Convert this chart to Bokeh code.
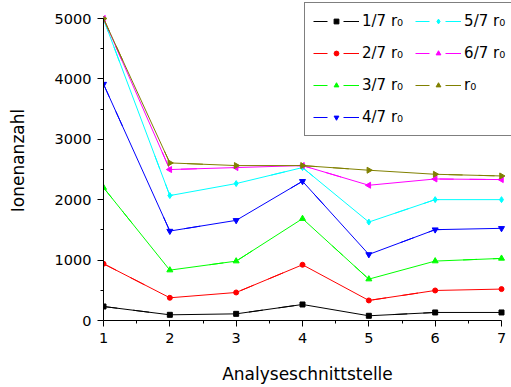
import math

from bokeh.embed import file_html
from bokeh.models import FixedTicker, Legend, LegendItem, Range1d
from bokeh.plotting import figure
from bokeh.resources import INLINE

# Analysis interface positions (x) and ion counts per radius fraction
positions = [1, 2, 3, 4, 5, 6, 7]
r_1_7 = [232, 94, 110, 265, 78, 133, 133]
r_2_7 = [940, 376, 464, 923, 332, 497, 520]
r_3_7 = [2200, 834, 983, 1686, 685, 984, 1028]
r_4_7 = [3914, 1481, 1658, 2305, 1094, 1504, 1526]
r_5_7 = [4990, 2068, 2267, 2532, 1630, 2001, 2001]
r_6_7 = [5000, 2499, 2532, 2565, 2239, 2343, 2333]
r_7_7 = [5000, 2609, 2565, 2565, 2488, 2421, 2393]

labels = ["1/7 r₀", "2/7 r₀", "3/7 r₀", "4/7 r₀", "5/7 r₀", "6/7 r₀", "r₀"]
series = [r_1_7, r_2_7, r_3_7, r_4_7, r_5_7, r_6_7, r_7_7]
colors = ["#000000", "#FF0000", "#00FF00", "#0000FF", "#00FFFF", "#FF00FF", "#808000"]
markers = ["square", "circle", "triangle", "inverted_triangle", "diamond", "triangle", "triangle"]
angles = [0, 0, 0, 0, 0, math.pi / 2, -math.pi / 2]
sizes = [5, 5, 6, 6, 6, 6, 6]

y_ticks = [0, 1000, 2000, 3000, 4000, 5000]
x_ticks = [1, 2, 3, 4, 5, 6, 7]

FONT = "DejaVu Sans"

# The plotting frame runs to the top and right canvas edges so the legend
# box is not clipped; the axes themselves stop at 7 and 5000 via bounds.
X_END = 1 + 6 * 408 / 398
Y_END = 5000 * 320 / 302

p = figure(
    width=511,
    height=387,
    output_backend="svg",
    toolbar_location=None,
    x_range=Range1d(1, X_END),
    y_range=Range1d(0, Y_END),
    min_border_left=103,
    min_border_right=0,
    min_border_top=0,
    min_border_bottom=67,
)
p.outline_line_color = None
p.grid.visible = False
p.background_fill_color = "white"
p.border_fill_color = "white"

items = []
for lab, ys, col, mk, ang, sz in zip(labels, series, colors, markers, angles, sizes):
    # dashed copy lies under the solid line; it only supplies the
    # "line - gap - line" legend swatch
    sw = p.line(positions, ys, line_color=col, line_width=1, line_dash="14 16 16 100")
    p.line(positions, ys, line_color=col, line_width=1)
    sc = p.scatter(positions, ys, marker=mk, angle=ang, size=sz,
                   fill_color=col, line_color=col)
    items.append(LegendItem(label=lab, renderers=[sw, sc]))

legend = Legend(
    items=items,
    orientation="vertical",
    nrows=4,
    location=(201, 184),
    glyph_width=46,
    glyph_height=12,
    label_height=20,
    label_standoff=3,
    spacing=12,
    padding=8,
    margin=0,
    border_line_color="black",
    border_line_width=1,
    background_fill_color="white",
    background_fill_alpha=1,
    label_text_font=FONT,
    label_text_font_size="15px",
    label_text_color="black",
)
p.add_layout(legend, "center")

for ax in (p.xaxis[0], p.yaxis[0]):
    ax.axis_line_color = "black"
    ax.axis_line_width = 1
    ax.major_tick_line_color = "black"
    ax.minor_tick_line_color = "black"
    ax.major_tick_in = 0
    ax.major_tick_out = 6
    ax.minor_tick_in = 0
    ax.minor_tick_out = 3
    ax.major_label_text_font = FONT
    ax.major_label_text_font_size = "14.5px"
    ax.major_label_text_color = "black"
    ax.axis_label_text_font = FONT
    ax.axis_label_text_font_size = "17px"
    ax.axis_label_text_font_style = "normal"
    ax.axis_label_text_color = "black"
    ax.major_label_standoff = 6

p.xaxis.ticker = FixedTicker(ticks=x_ticks, minor_ticks=[1.5, 2.5, 3.5, 4.5, 5.5, 6.5])
p.yaxis.ticker = FixedTicker(ticks=y_ticks, minor_ticks=[500, 1500, 2500, 3500, 4500])
p.xaxis.bounds = (1, 7)
p.yaxis.bounds = (0, 5000)
p.xaxis.axis_label = "Analyseschnittstelle"
p.yaxis.axis_label = "Ionenanzahl"
p.xaxis.axis_label_standoff = 18
p.yaxis.axis_label_standoff = 24

open("out.html", "w").write(file_html(p, INLINE))
